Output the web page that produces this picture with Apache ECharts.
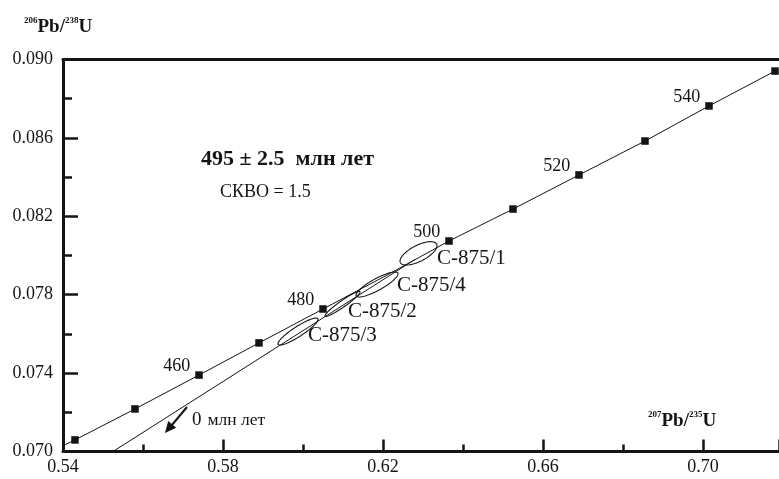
<!DOCTYPE html>
<html><head><meta charset="utf-8">
<script src="https://cdn.jsdelivr.net/npm/echarts@6/dist/echarts.min.js"></script>
<style>html,body{margin:0;padding:0;background:#fff}#c{width:779px;height:479px}</style>
</head><body><div id="c"></div>
<script>
// Concordia curve (207Pb/235U, 206Pb/238U)
const concordiaX = [0.540, 0.543, 0.558, 0.574, 0.589, 0.605, 0.621, 0.6365, 0.6525, 0.669, 0.6855, 0.7015, 0.718];
const concordiaY = [0.0703, 0.07059, 0.07217, 0.0739, 0.07554, 0.07727, 0.0790, 0.08074, 0.08237, 0.08411, 0.08584, 0.08763, 0.08941];
// Age markers on concordia
const markerX = [0.543, 0.558, 0.574, 0.589, 0.605, 0.6365, 0.6525, 0.669, 0.6855, 0.7015, 0.718];
const markerY = [0.07059, 0.07217, 0.0739, 0.07554, 0.07727, 0.08074, 0.08237, 0.08411, 0.08584, 0.08763, 0.08941];
const markerAges = ['', '', '460', '', '480', '500', '', '520', '', '540', ''];
// Discordia (0 Ma lower intercept)
const discordiaX = [0.5525, 0.628];
const discordiaY = [0.0700, 0.0798];
// Error ellipses
const ellipseNames = ['C-875/3', 'C-875/2', 'C-875/4', 'C-875/1'];
const ellipseCX = [0.59875, 0.60988, 0.6185, 0.62888];
const ellipseCY = [0.07612, 0.07753, 0.07852, 0.08011];
const ellipseSX = [0.0050, 0.004375, 0.00525, 0.004625];
const ellipseSY = [0.000689, 0.000638, 0.000638, 0.000597];
const ellipseRho = [0.90, 0.95, 0.85, 0.66];
// Axis ticks
const xMin = 0.54, xMax = 0.719, xStep = 0.04;
const yMin = 0.070, yMax = 0.090, yStep = 0.004;

const FONT = 'Liberation Serif';
const INK = '#141414';

const chart = echarts.init(document.getElementById('c'), null, {renderer: 'canvas'});

const concordiaData = concordiaX.map((x, i) => [x, concordiaY[i]]);
const markerData = markerX.map((x, i) => [x, markerY[i], markerAges[i]]);
const discordiaData = discordiaX.map((x, i) => [x, discordiaY[i]]);
const ellipseData = ellipseCX.map((x, i) => [x, ellipseCY[i], ellipseSX[i], ellipseSY[i], ellipseRho[i]]);

const option = {
  backgroundColor: '#fff',
  animation: false,
  grid: {left: 63, top: 59.5, right: 0, bottom: 27.5, containLabel: false},
  xAxis: [{
    type: 'value', min: xMin, max: xMax, interval: xStep,
    axisLine: {show: true, lineStyle: {color: INK, width: 3}},
    axisTick: {show: true, inside: true, length: 12, lineStyle: {color: INK, width: 2.5}},
    minorTick: {show: true, splitNumber: 2, length: 7, lineStyle: {color: INK, width: 2.5}},
    splitLine: {show: false},
    axisLabel: {fontFamily: FONT, fontSize: 18, color: INK, margin: 7,
      formatter: v => v.toFixed(2), showMaxLabel: false}
  }, {
    type: 'value', position: 'top', min: xMin, max: xMax,
    axisLine: {show: true, lineStyle: {color: INK, width: 3}},
    axisTick: {show: false}, axisLabel: {show: false}, splitLine: {show: false}
  }],
  yAxis: {
    type: 'value', min: yMin, max: yMax, interval: yStep,
    axisLine: {show: true, lineStyle: {color: INK, width: 3}},
    axisTick: {show: true, inside: true, length: 15, lineStyle: {color: INK, width: 2.5}},
    minorTick: {show: true, splitNumber: 2, length: 9, lineStyle: {color: INK, width: 2.5}},
    splitLine: {show: false},
    axisLabel: {fontFamily: FONT, fontSize: 18, color: INK, margin: 10,
      formatter: v => v.toFixed(3)}
  },
  series: [
    {
      type: 'line', data: concordiaData, showSymbol: false, symbol: 'none',
      lineStyle: {color: INK, width: 1}, z: 2
    },
    {
      type: 'line', data: discordiaData, showSymbol: false, symbol: 'none',
      lineStyle: {color: INK, width: 1}, z: 2
    },
    {
      type: 'custom', data: ellipseData, z: 3,
      renderItem: function (params, api) {
        const cx = api.value(0), cy = api.value(1), sx = api.value(2), sy = api.value(3), r = api.value(4);
        const pts = [];
        const n = 90;
        for (let k = 0; k <= n; k++) {
          const t = 2 * Math.PI * k / n;
          const x = cx + sx * Math.cos(t);
          const y = cy + sy * (r * Math.cos(t) + Math.sqrt(1 - r * r) * Math.sin(t));
          pts.push(api.coord([x, y]));
        }
        return {type: 'polygon', shape: {points: pts},
          style: {fill: 'none', stroke: INK, lineWidth: 1.1}};
      }
    },
    {
      type: 'scatter', data: markerData, symbol: 'rect', symbolSize: 7.5, z: 4,
      itemStyle: {color: INK, opacity: 1},
      label: {show: true, position: 'left', distance: 5, offset: [0, -9],
        fontFamily: FONT, fontSize: 18, color: INK, opacity: 1,
        formatter: p => p.value[2]}
    }
  ],
  graphic: [
    {type: 'text', left: 24, top: 16, z: 10, style: {
      text: '{s|206}{b|Pb/}{s|238}{b|U}', fill: INK, fontFamily: FONT,
      rich: {s: {fontSize: 9, fontWeight: 'bold', fontFamily: FONT, verticalAlign: 'top', fill: INK},
             b: {fontSize: 19, fontWeight: 'bold', fontFamily: FONT, lineHeight: 22, fill: INK}}}},
    {type: 'text', left: 648, top: 410, z: 10, style: {
      text: '{s|207}{b|Pb/}{s|235}{b|U}', fill: INK, fontFamily: FONT,
      rich: {s: {fontSize: 9, fontWeight: 'bold', fontFamily: FONT, verticalAlign: 'top', fill: INK},
             b: {fontSize: 19, fontWeight: 'bold', fontFamily: FONT, lineHeight: 22, fill: INK}}}},
    {type: 'text', left: 201, top: 148, z: 10, style: {
      text: '495 ± 2.5  млн лет', fill: INK, fontFamily: FONT, fontSize: 22, fontWeight: 'bold'}},
    {type: 'text', left: 220, top: 183, z: 10, style: {
      text: 'СКВО = 1.5', fill: INK, fontFamily: FONT, fontSize: 18}},
    {type: 'text', left: 437, top: 248, z: 10, style: {text: ellipseNames[3], fill: INK, fontFamily: FONT, fontSize: 21}},
    {type: 'text', left: 397, top: 275, z: 10, style: {text: ellipseNames[2], fill: INK, fontFamily: FONT, fontSize: 21}},
    {type: 'text', left: 348, top: 301, z: 10, style: {text: ellipseNames[1], fill: INK, fontFamily: FONT, fontSize: 21}},
    {type: 'text', left: 308, top: 325, z: 10, style: {text: ellipseNames[0], fill: INK, fontFamily: FONT, fontSize: 21}},
    {type: 'text', left: 192, top: 411, z: 10, style: {
      text: '{a|0}  {b|млн лет}', fill: INK, fontFamily: FONT,
      rich: {a: {fontSize: 19, fontFamily: FONT, fill: INK}, b: {fontSize: 17.5, fontFamily: FONT, fill: INK}}}},
    {type: 'line', z: 10, shape: {x1: 187, y1: 407, x2: 169, y2: 428.5},
      style: {stroke: INK, lineWidth: 2}},
    {type: 'polygon', z: 10, shape: {points: [[165, 433], [176.2, 427.8], [168.2, 421]]},
      style: {fill: INK}}
  ]
};
chart.setOption(option);
</script>
</body></html>
